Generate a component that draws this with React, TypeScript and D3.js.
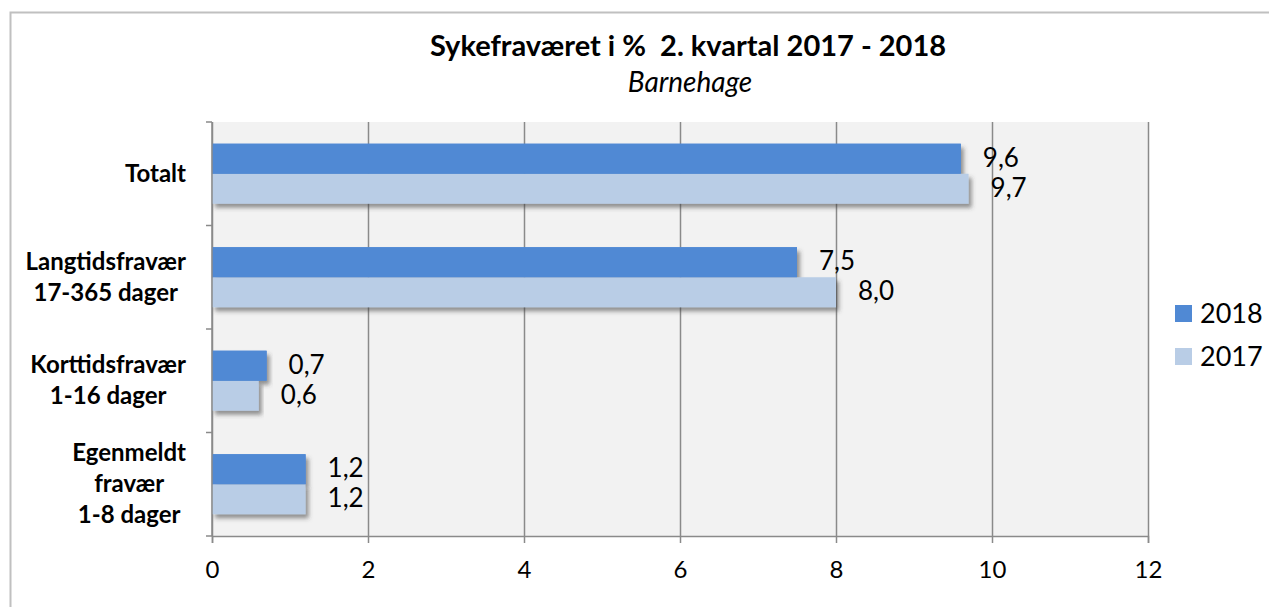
import React, { useEffect, useRef } from 'react';
import * as d3 from 'd3';

// Chart data
const categories = ['Totalt', 'Langtidsfravær', 'Korttidsfravær', 'Egenmeldt'];
const categoryLines = [
  ['Totalt'],
  ['Langtidsfravær', '17-365 dager'],
  ['Korttidsfravær', '1-16 dager'],
  ['Egenmeldt', 'fravær', '1-8 dager'],
];
const seriesNames = ['2018', '2017'];
const values2018 = [9.6, 7.5, 0.7, 1.2];
const values2017 = [9.7, 8.0, 0.6, 1.2];
const xTicks = [0, 2, 4, 6, 8, 10, 12];
const seriesColors = ['#5089d4', '#b9cde6'];

const WIDTH = 1269;
const HEIGHT = 607;
const FONT = 'Lato, Carlito, "Open Sans", sans-serif';

const App: React.FC = () => {
  const svgRef = useRef<SVGSVGElement>(null);

  useEffect(() => {
    if (!svgRef.current) return;
    const svg = d3.select(svgRef.current);
    svg.selectAll('*').remove();

    const plot = { left: 212, right: 1148, top: 122, bottom: 536 };

    const x = d3.scaleLinear().domain([0, 12]).range([plot.left, plot.right]);
    const y0 = d3.scaleBand<string>().domain(categories).range([plot.top, plot.bottom]).padding(0);
    const y1 = d3.scaleBand<string>()
      .domain(seriesNames)
      .range([y0.bandwidth() * 0.21, y0.bandwidth() * 0.79]);

    // shadow filter for the bars
    const defs = svg.append('defs');
    const f = defs.append('filter').attr('id', 'barShadow')
      .attr('x', '-5%').attr('y', '-20%').attr('width', '115%').attr('height', '160%');
    f.append('feDropShadow')
      .attr('dx', 3).attr('dy', 4).attr('stdDeviation', 2.2)
      .attr('flood-color', '#404040').attr('flood-opacity', 0.55);

    // outer chart border
    svg.append('rect')
      .attr('x', 10.5).attr('y', 12.5)
      .attr('width', WIDTH + 20).attr('height', HEIGHT + 20)
      .attr('fill', '#fff').attr('stroke', '#c0c0c0').attr('stroke-width', 2);

    // plot background
    svg.append('rect')
      .attr('x', plot.left).attr('y', plot.top)
      .attr('width', plot.right - plot.left).attr('height', plot.bottom - plot.top)
      .attr('fill', '#f2f2f2');

    // vertical gridlines
    svg.append('g')
      .attr('transform', `translate(0,${plot.bottom})`)
      .call(d3.axisBottom(x).tickValues(xTicks).tickSize(-(plot.bottom - plot.top)).tickFormat(() => ''))
      .call(g => g.select('.domain').remove())
      .call(g => g.selectAll('line').attr('stroke', '#8a8a8a').attr('stroke-width', 1.5));

    // bars
    const seriesValues = [values2018, values2017];
    const groups = svg.append('g').selectAll('g')
      .data(categories)
      .join('g')
      .attr('transform', d => `translate(0,${y0(d)})`);

    groups.selectAll('rect')
      .data((_, i) => seriesNames.map((s, k) => ({ s, v: seriesValues[k][i], k })))
      .join('rect')
      .attr('x', x(0))
      .attr('y', d => y1(d.s)!)
      .attr('width', d => x(d.v) - x(0))
      .attr('height', y1.bandwidth())
      .attr('fill', d => seriesColors[d.k])
      .attr('filter', 'url(#barShadow)');

    // redraw the 2018 bars on top so the 2017 shadow does not overlap them
    groups.selectAll('rect.top')
      .data((_, i) => [{ v: values2018[i] }])
      .join('rect')
      .attr('class', 'top')
      .attr('x', x(0))
      .attr('y', y1('2018')!)
      .attr('width', d => x(d.v) - x(0))
      .attr('height', y1.bandwidth())
      .attr('fill', seriesColors[0]);

    // value labels
    groups.selectAll('text.val')
      .data((_, i) => seriesNames.map((s, k) => ({ s, v: seriesValues[k][i] })))
      .join('text')
      .attr('class', 'val')
      .attr('x', d => x(d.v) + 22)
      .attr('y', d => y1(d.s)! + y1.bandwidth() / 2 + 8)
      .attr('font-family', FONT)
      .attr('font-size', 26)
      .attr('fill', '#000')
      .text(d => d3.format('.1f')(d.v).replace('.', ','));

    // left axis
    svg.append('line')
      .attr('x1', plot.left).attr('x2', plot.left)
      .attr('y1', plot.top).attr('y2', plot.bottom)
      .attr('stroke', '#8a8a8a').attr('stroke-width', 1.5);
    const bounds = categories.map(c => y0(c)!).concat([plot.bottom]);
    svg.append('g').selectAll('line')
      .data(bounds)
      .join('line')
      .attr('x1', plot.left - 6).attr('x2', plot.left)
      .attr('y1', d => d).attr('y2', d => d)
      .attr('stroke', '#8a8a8a').attr('stroke-width', 1.5);

    // bottom axis
    svg.append('g')
      .attr('transform', `translate(0,${plot.bottom})`)
      .call(d3.axisBottom(x).tickValues(xTicks).tickSize(7).tickPadding(18).tickFormat(d => String(d)))
      .call(g => g.select('.domain').attr('stroke', '#8a8a8a').attr('stroke-width', 1.5))
      .call(g => g.selectAll('line').attr('stroke', '#8a8a8a').attr('stroke-width', 1.5))
      .call(g => g.selectAll('text').attr('font-family', FONT).attr('font-size', 24).attr('fill', '#000'));

    // category labels, lines centred, block ending near the axis
    const lineH = 31;
    categories.forEach((c, i) => {
      const lines = categoryLines[i];
      const t = svg.append('text')
        .attr('font-family', FONT)
        .attr('font-size', 24)
        .attr('font-weight', 'bold')
        .attr('fill', '#000')
        .attr('text-anchor', 'middle');
      const cy = y0(c)! + y0.bandwidth() / 2;
      lines.forEach((l, j) => {
        t.append('tspan')
          .attr('y', cy + (j - (lines.length - 1) / 2) * lineH + 8)
          .text(l);
      });
      let maxW = 0;
      t.selectAll<SVGTSpanElement, unknown>('tspan').each(function () {
        maxW = Math.max(maxW, this.getComputedTextLength());
      });
      t.selectAll('tspan').attr('x', plot.left - 26 - maxW / 2);
    });

    // title
    svg.append('text')
      .attr('x', 688).attr('y', 56)
      .attr('text-anchor', 'middle')
      .attr('font-family', FONT)
      .attr('font-size', 29)
      .attr('font-weight', 'bold')
      .attr('fill', '#000')
      .attr('xml:space', 'preserve')
      .style('white-space', 'pre')
      .text('Sykefraværet i %  2. kvartal 2017 - 2018');
    svg.append('text')
      .attr('x', 690).attr('y', 92)
      .attr('text-anchor', 'middle')
      .attr('font-family', FONT)
      .attr('font-size', 28)
      .attr('font-style', 'italic')
      .attr('fill', '#000')
      .text('Barnehage');

    // legend
    const legend = svg.append('g').attr('transform', 'translate(1175,305)');
    seriesNames.forEach((s, i) => {
      const row = legend.append('g').attr('transform', `translate(0,${i * 43})`);
      row.append('rect').attr('width', 17).attr('height', 17).attr('fill', seriesColors[i]);
      row.append('text')
        .attr('x', 25).attr('y', 18)
        .attr('font-family', FONT)
        .attr('font-size', 27)
        .attr('fill', '#000')
        .text(s);
    });
  }, []);

  return (
    <svg
      ref={svgRef}
      width={WIDTH}
      height={HEIGHT}
      style={{ position: 'absolute', left: 0, top: 0, background: '#fff' }}
    />
  );
};

export default App;
